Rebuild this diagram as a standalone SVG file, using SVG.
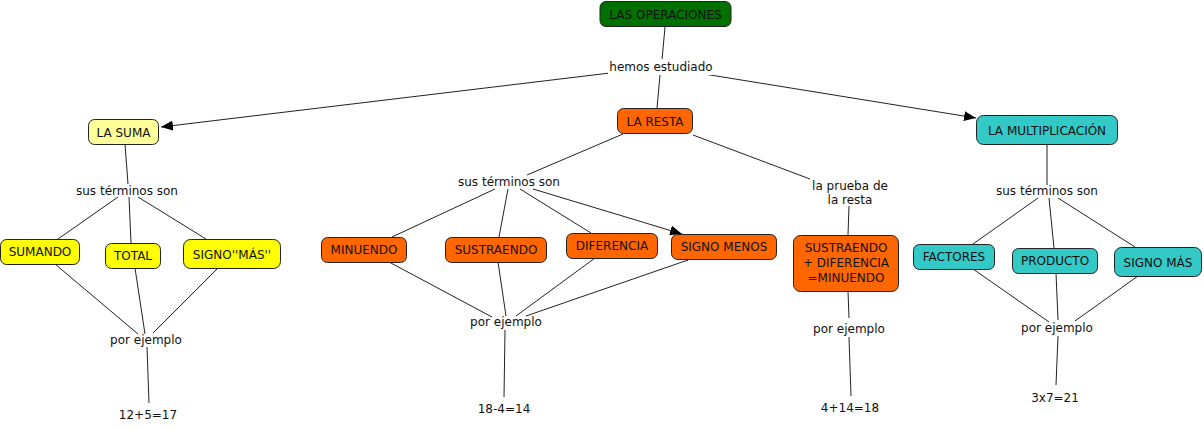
<svg xmlns="http://www.w3.org/2000/svg" width="1204" height="429" viewBox="0 0 1204 429">
<style>
text{font-family:"DejaVu Sans","Verdana",sans-serif;font-size:12px;fill:#111;text-anchor:middle}
.n{stroke:#222;stroke-width:1}
.c line{stroke:#222;stroke-width:1}
.g{fill:#007000}.o{fill:#FF6600}.ly{fill:#FFFF99}.y{fill:#FFFF00}.t{fill:#33C9C6}
</style>
<defs>
<marker id="ah" markerWidth="12" markerHeight="10" refX="12" refY="5" orient="auto" markerUnits="userSpaceOnUse">
<path d="M0,0 L12,5 L0,10 Z" fill="#000"/>
</marker>
</defs>
<rect width="1204" height="429" fill="#fff"/>
<g class="c" id="connectors">
<line x1="665" y1="27" x2="662" y2="60"/>
<line x1="610" y1="73" x2="161" y2="127" marker-end="url(#ah)"/>
<line x1="698" y1="73" x2="976" y2="118" marker-end="url(#ah)"/>
<line x1="660" y1="75" x2="657" y2="108"/>
<line x1="125" y1="144" x2="128" y2="184"/>
<line x1="118" y1="197" x2="58" y2="239"/>
<line x1="129" y1="197" x2="131" y2="243"/>
<line x1="138" y1="197" x2="206" y2="239"/>
<line x1="55" y1="264" x2="138" y2="334"/>
<line x1="135" y1="268" x2="145" y2="334"/>
<line x1="218" y1="268" x2="153" y2="333"/>
<line x1="147" y1="347" x2="149" y2="403"/>
<line x1="623" y1="134" x2="527" y2="175"/>
<line x1="693" y1="135" x2="810" y2="179"/>
<line x1="495" y1="189" x2="392" y2="237"/>
<line x1="508" y1="189" x2="499" y2="237"/>
<line x1="520" y1="189" x2="591" y2="233"/>
<line x1="533" y1="189" x2="682" y2="234" marker-end="url(#ah)"/>
<line x1="389" y1="262" x2="492" y2="317"/>
<line x1="498" y1="262" x2="506" y2="316"/>
<line x1="595" y1="258" x2="516" y2="316"/>
<line x1="688" y1="260" x2="526" y2="316"/>
<line x1="505" y1="330" x2="504" y2="397"/>
<line x1="849" y1="206" x2="848" y2="235"/>
<line x1="848" y1="291" x2="849" y2="318"/>
<line x1="849" y1="337" x2="851" y2="396"/>
<line x1="1047" y1="144" x2="1047" y2="185"/>
<line x1="1038" y1="198" x2="973" y2="244"/>
<line x1="1049" y1="198" x2="1054" y2="248"/>
<line x1="1058" y1="198" x2="1135" y2="247"/>
<line x1="973" y1="269" x2="1049" y2="322"/>
<line x1="1056" y1="273" x2="1058" y2="320"/>
<line x1="1138" y1="276" x2="1075" y2="321"/>
<line x1="1058" y1="336" x2="1056" y2="385"/>
</g>
<g id="n-operaciones"><rect class="n g" x="600" y="1.5" width="131" height="25" rx="6"/><text x="665.5" y="18.5">LAS OPERACIONES</text></g>
<g id="l-hemos"><rect x="608" y="59" width="106" height="16" fill="#fff"/><text x="661" y="71">hemos estudiado</text></g>
<g id="n-suma"><rect class="n ly" x="88.5" y="119.5" width="70" height="25" rx="6"/><text x="123.5" y="136.5">LA SUMA</text></g>
<g id="n-resta"><rect class="n o" x="617.5" y="108.5" width="75" height="25" rx="6"/><text x="655" y="125.5">LA RESTA</text></g>
<g id="n-mult"><rect class="n t" x="976.5" y="115.5" width="141" height="29" rx="7"/><text x="1047" y="135">LA MULTIPLICACIÓN</text></g>
<g id="l-suma-terminos"><text x="127" y="195">sus términos son</text></g>
<g id="n-sumando"><rect class="n y" x="0.5" y="239.5" width="79" height="25" rx="6"/><text x="40" y="256">SUMANDO</text></g>
<g id="n-total"><rect class="n y" x="105.5" y="243.5" width="55" height="25" rx="6"/><text x="133" y="260">TOTAL</text></g>
<g id="n-signo-mas"><rect class="n y" x="183.5" y="239.5" width="97" height="29" rx="7"/><text x="232" y="259">SIGNO''MÁS''</text></g>
<g id="l-suma-ejemplo"><text x="146" y="344">por ejemplo</text></g>
<g id="n-suma-ej"><text x="148" y="419">12+5=17</text></g>
<g id="l-resta-terminos"><text x="509" y="186">sus términos son</text></g>
<g id="l-prueba"><text x="850" y="190">la prueba de</text><text x="850" y="204">la resta</text></g>
<g id="n-minuendo"><rect class="n o" x="321.5" y="237.5" width="85" height="25" rx="6"/><text x="364" y="254">MINUENDO</text></g>
<g id="n-sustraendo"><rect class="n o" x="445.5" y="237.5" width="101" height="25" rx="6"/><text x="496" y="254">SUSTRAENDO</text></g>
<g id="n-diferencia"><rect class="n o" x="566.5" y="233.5" width="91" height="25" rx="6"/><text x="612" y="250">DIFERENCIA</text></g>
<g id="n-signo-menos"><rect class="n o" x="671.5" y="234.5" width="105" height="25" rx="6"/><text x="724" y="251">SIGNO MENOS</text></g>
<g id="l-resta-ejemplo"><text x="506" y="326">por ejemplo</text></g>
<g id="n-resta-ej"><text x="504" y="413">18-4=14</text></g>
<g id="n-prueba"><rect class="n o" x="793.5" y="235.5" width="105" height="56" rx="7"/><text x="846" y="252">SUSTRAENDO</text><text x="846" y="267">+ DIFERENCIA</text><text x="846" y="282">=MINUENDO</text></g>
<g id="l-prueba-ejemplo"><text x="849" y="333">por ejemplo</text></g>
<g id="n-prueba-ej"><text x="850" y="412">4+14=18</text></g>
<g id="l-mult-terminos"><text x="1047" y="195">sus términos son</text></g>
<g id="n-factores"><rect class="n t" x="913.5" y="244.5" width="81" height="25" rx="6"/><text x="954" y="261">FACTORES</text></g>
<g id="n-producto"><rect class="n t" x="1012.5" y="248.5" width="85" height="25" rx="6"/><text x="1055" y="265">PRODUCTO</text></g>
<g id="n-signo-mas2"><rect class="n t" x="1114.5" y="247.5" width="87" height="29" rx="7"/><text x="1158" y="267">SIGNO MÁS</text></g>
<g id="l-mult-ejemplo"><text x="1057" y="332">por ejemplo</text></g>
<g id="n-mult-ej"><text x="1055" y="402">3x7=21</text></g>
</svg>
